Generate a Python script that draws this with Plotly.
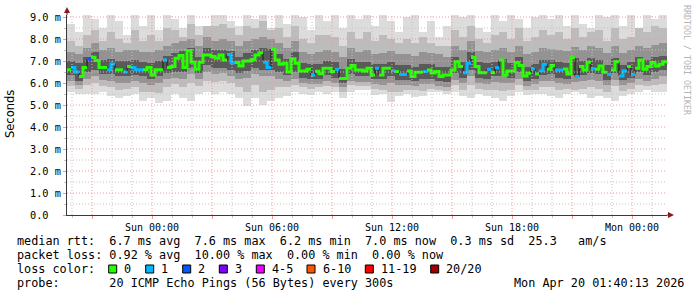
import plotly.graph_objects as go
import pandas as pd

# ---------------- data ----------------
START = "2026-04-18 19:45"          # left edge of the 30 h graph
END = "2026-04-20 01:45"
MED_STEP_MIN = 12                   # median sample spacing (minutes)
SMOKE_STEP_MIN = 24                 # smoke column spacing (minutes)

# median round-trip time (ms)
median_ms = [
    6.6, 6.7, 6.5, 6.3, 6.7, 7.08, 7.17, 7.02, 6.7, 6.7,
    6.6, 6.86, 6.6, 6.6, 6.5, 6.75, 6.7, 6.6, 6.6, 6.6,
    6.7, 6.36, 6.6, 6.6, 7.05, 6.7, 6.75, 7.12, 7.25, 6.7,
    7.47, 6.94, 6.62, 6.94, 7.27, 7.27, 7.2, 7.12, 7.27, 7.04,
    7.3, 6.92, 6.93, 6.77, 7.0, 7.0, 7.06, 7.27, 7.37, 6.94,
    6.7, 7.53, 7.04, 6.85, 6.9, 6.5, 7.1, 6.9, 6.55, 6.55,
    6.62, 6.36, 6.53, 6.42, 6.67, 6.67, 6.52, 6.62, 6.21, 6.21,
    6.67, 6.8, 6.59, 6.59, 6.55, 6.67, 6.36, 6.67, 6.36, 6.67,
    6.67, 6.56, 6.52, 6.39, 6.39, 6.55, 6.29, 6.49, 6.49, 6.52,
    6.59, 6.45, 6.52, 6.29, 6.36, 6.36, 6.59, 6.97, 6.75, 6.47,
    6.9, 7.17, 6.75, 6.47, 6.47, 6.62, 6.47, 6.7, 7.04, 6.36,
    6.55, 6.55, 6.93, 6.8, 6.32, 6.44, 6.64, 6.41, 6.56, 6.85,
    6.62, 6.8, 6.59, 6.59, 6.64, 6.41, 7.15, 6.29, 6.75, 6.59,
    6.94, 6.64, 6.62, 6.77, 6.49, 6.39, 6.59, 6.97, 6.32, 6.56,
    6.75, 6.39, 6.67, 7.04, 6.62, 6.75, 6.93, 6.77, 6.85, 6.97,
]
# lost pings (of 20) for each median sample
median_loss = [
    0, 1, 1, 0, 0, 2, 0, 0, 0, 0,
    1, 1, 0, 0, 1, 0, 1, 1, 1, 0,
    0, 0, 0, 0, 1, 0, 0, 0, 0, 0,
    0, 0, 0, 0, 0, 0, 0, 0, 0, 0,
    1, 1, 0, 0, 0, 0, 0, 0, 0, 1,
    1, 0, 0, 0, 0, 0, 0, 0, 0, 0,
    0, 1, 0, 0, 0, 0, 0, 1, 0, 0,
    0, 0, 0, 0, 0, 0, 0, 1, 0, 0,
    0, 1, 0, 1, 1, 0, 0, 0, 0, 1,
    0, 0, 0, 0, 0, 0, 0, 0, 0, 1,
    1, 0, 0, 0, 0, 1, 0, 1, 0, 0,
    0, 0, 0, 0, 0, 0, 1, 0, 1, 1,
    0, 0, 1, 1, 0, 0, 0, 1, 0, 0,
    0, 1, 0, 0, 0, 1, 0, 0, 1, 1,
    0, 1, 0, 0, 0, 0, 0, 0, 0, 0,
]

# smoke: distribution of the 20 pings per column (ms)
smoke_min = [
    5.6, 5.5, 5.5, 5.5, 5.6, 5.4, 5.3, 5.4, 5.5, 5.2, 5.3, 5.1, 5.2, 5.5, 5.3, 5.2, 5.5, 5.6, 5.5,
    5.6, 5.5, 5.3, 4.95, 5.3, 5.0, 5.2, 5.3, 5.4, 5.6, 5.5, 5.45, 5.6, 5.5, 5.6, 5.3, 5.6, 5.7, 5.7,
    5.45, 5.5, 5.15, 5.4, 5.5, 5.35, 5.4, 5.6, 5.6, 5.5, 5.6, 5.4, 5.3, 5.5, 5.4, 5.3, 5.2, 5.4, 5.6,
    5.45, 5.5, 5.5, 5.4, 5.3, 5.5, 5.6, 5.5, 5.3, 5.4, 5.3, 5.2, 5.4, 5.5, 5.6, 5.7, 5.6, 5.6,
]
smoke_max = [
    8.7, 8.3, 9.2, 8.9, 8.5, 9.3, 8.8, 8.2, 9.3, 8.6,
    9.1, 8.4, 9.3, 8.9, 8.5, 9.3, 8.6, 8.4, 9.2, 9.3,
    8.8, 8.6, 9.3, 8.9, 9.3, 8.5, 9.2, 8.7, 9.3, 9.0,
    8.4, 9.3, 8.8, 9.2, 8.5, 9.3, 8.9, 9.3, 8.6, 9.1,
    8.8, 8.3, 9.0, 9.3, 8.3, 8.8, 8.1, 8.6, 9.3, 9.0,
    9.3, 8.5, 8.3, 9.3, 8.8, 9.2, 8.9, 8.5, 9.0, 9.3,
    8.9, 9.3, 8.6, 9.3, 8.7, 8.5, 9.3, 9.0, 9.2, 8.6,
    9.3, 8.4, 9.3, 8.9, 9.2,
]
smoke_p10 = [
    5.85, 5.75, 5.9, 6.0, 5.85, 5.8, 5.7, 5.75, 5.8, 5.6,
    5.6, 5.55, 5.8, 5.95, 5.8, 6.0, 5.85, 6.1, 6.05, 6.1,
    6.0, 5.8, 5.6, 5.9, 5.6, 5.7, 5.8, 5.8, 5.9, 5.8,
    5.75, 5.8, 5.85, 5.8, 5.6, 5.9, 5.85, 5.85, 5.75, 5.7,
    5.6, 5.6, 5.7, 5.7, 5.65, 5.75, 5.7, 5.65, 5.9, 5.7,
    5.9, 5.75, 5.7, 5.7, 5.65, 5.7, 5.9, 5.7, 5.7, 5.8,
    5.8, 5.7, 5.75, 5.7, 5.75, 5.8, 5.75, 5.6, 5.85, 5.65,
    5.75, 5.9, 5.85, 5.9, 5.95,
]
smoke_p90 = [
    7.9, 7.7, 8.2, 8.4, 7.9, 8.3, 8.0, 7.8, 8.4, 7.9,
    8.2, 7.9, 8.5, 8.4, 8.1, 8.7, 8.2, 8.6, 8.6, 8.7,
    8.5, 8.2, 8.6, 8.5, 8.8, 8.4, 8.5, 8.1, 8.6, 8.0,
    7.8, 8.2, 8.2, 8.1, 7.7, 8.3, 8.0, 8.3, 7.9, 8.2,
    8.0, 7.8, 8.0, 7.8, 8.1, 7.8, 7.7, 7.7, 8.4, 8.1,
    8.6, 8.0, 7.8, 8.2, 8.3, 8.0, 8.5, 7.9, 8.1, 8.4,
    8.2, 8.3, 8.0, 8.5, 8.1, 8.3, 8.4, 7.9, 8.5, 8.0,
    8.1, 8.5, 8.3, 8.6, 8.5,
]
smoke_p25 = [
    6.1, 5.9, 6.2, 6.3, 6.15, 6.1, 6.0, 6.0, 6.1, 6.0,
    5.9, 6.0, 6.2, 6.25, 6.2, 6.4, 6.2, 6.5, 6.4, 6.45,
    6.3, 6.2, 6.25, 6.4, 6.3, 6.3, 6.2, 6.1, 6.2, 6.0,
    5.95, 5.95, 6.1, 6.0, 5.8, 6.1, 6.05, 6.05, 5.95, 5.9,
    6.0, 5.9, 5.9, 5.85, 5.95, 5.95, 5.85, 5.8, 6.15, 6.0,
    6.3, 6.0, 5.95, 6.05, 6.0, 6.0, 6.2, 5.85, 5.95, 6.1,
    6.1, 6.0, 5.95, 6.05, 6.1, 6.15, 6.1, 5.9, 6.15, 5.9,
    6.0, 6.2, 6.1, 6.2, 6.3,
]
smoke_p75 = [
    7.4, 7.3, 7.6, 7.8, 7.5, 7.6, 7.4, 7.5, 7.5, 7.4,
    7.4, 7.5, 7.7, 7.8, 7.9, 8.0, 7.7, 8.1, 7.9, 8.0,
    7.9, 7.7, 7.9, 8.0, 8.1, 8.0, 7.8, 7.6, 7.9, 7.4,
    7.3, 7.4, 7.5, 7.4, 7.2, 7.6, 7.4, 7.5, 7.3, 7.35,
    7.45, 7.3, 7.3, 7.25, 7.4, 7.35, 7.3, 7.2, 7.7, 7.5,
    7.9, 7.45, 7.4, 7.5, 7.6, 7.4, 7.7, 7.3, 7.4, 7.6,
    7.55, 7.5, 7.45, 7.65, 7.5, 7.7, 7.6, 7.35, 7.7, 7.35,
    7.5, 7.7, 7.6, 7.75, 7.8,
]
smoke_p40 = [
    6.35, 6.1, 6.5, 6.6, 6.4, 6.4, 6.3, 6.3, 6.35, 6.3,
    6.2, 6.3, 6.45, 6.5, 6.5, 6.7, 6.45, 6.8, 6.7, 6.7,
    6.6, 6.45, 6.55, 6.7, 6.6, 6.6, 6.5, 6.35, 6.5, 6.25,
    6.2, 6.2, 6.35, 6.25, 6.0, 6.4, 6.3, 6.3, 6.2, 6.2,
    6.3, 6.15, 6.15, 6.1, 6.2, 6.2, 6.1, 6.05, 6.45, 6.25,
    6.6, 6.25, 6.2, 6.3, 6.3, 6.25, 6.5, 6.1, 6.2, 6.35,
    6.4, 6.25, 6.2, 6.35, 6.35, 6.45, 6.4, 6.15, 6.45, 6.15,
    6.25, 6.5, 6.35, 6.5, 6.6,
]
smoke_p60 = [
    7.0, 6.9, 7.2, 7.4, 7.05, 7.1, 7.0, 7.0, 7.05, 6.95,
    6.9, 7.0, 7.25, 7.35, 7.45, 7.6, 7.2, 7.6, 7.5, 7.5,
    7.45, 7.2, 7.35, 7.5, 7.6, 7.55, 7.3, 7.1, 7.4, 6.9,
    6.85, 6.85, 7.0, 6.95, 6.65, 7.1, 6.95, 6.95, 6.85, 6.85,
    6.95, 6.8, 6.8, 6.75, 6.85, 6.85, 6.75, 6.75, 7.2, 6.95,
    7.4, 6.95, 6.9, 6.95, 7.1, 6.9, 7.2, 6.75, 6.85, 7.05,
    7.05, 6.95, 6.9, 7.15, 7.0, 7.15, 7.05, 6.8, 7.15, 6.8,
    6.95, 7.2, 7.05, 7.2, 7.25,
]

y_tick_vals = [0, 1, 2, 3, 4, 5, 6, 7, 8, 9]
y_tick_text = ["0.0\u00a0\u00a0", "1.0 m", "2.0 m", "3.0 m", "4.0 m",
               "5.0 m", "6.0 m", "7.0 m", "8.0 m", "9.0 m"]

loss_labels = ["0", "1", "2", "3", "4-5", "6-10", "11-19", "20/20"]
loss_colors = ["#26ff00", "#00b8ff", "#0059ff", "#7e00ff", "#ee00ff",
               "#ff5500", "#ff0000", "#a10000"]

stats_rtt = "median rtt:  6.7 ms avg  7.6 ms max  6.2 ms min  7.0 ms now  0.3 ms sd  25.3   am/s"
stats_loss = "packet loss: 0.92 % avg  10.00 % max  0.00 % min  0.00 % now"
probe_text = "probe:       20 ICMP Echo Pings (56 Bytes) every 300s"
stamp_text = "Mon Apr 20 01:40:13 2026"

# ---------------- geometry ----------------
W, H = 697, 297
PL, PR, PT, PB = 67, 667, 15, 215
YMAX = (PB - PT) / 22.0
MONO = "DejaVu Sans Mono"


def px(x):
    return (x - PL) / (PR - PL)


def py(y):
    return (PB - y) / (PB - PT)


start = pd.Timestamp(START)
end = pd.Timestamp(END)
med_step = pd.Timedelta(minutes=MED_STEP_MIN)
smk_step = pd.Timedelta(minutes=SMOKE_STEP_MIN)
med_edges = [start + i * med_step for i in range(len(median_ms) + 1)]
smk_centers = [start + (i + 0.5) * smk_step for i in range(len(smoke_min))]
smk_width = smk_step.total_seconds() * 1000

fig = go.Figure()

bands = [
    (smoke_min, smoke_max, "#dcdcdc"),
    (smoke_p10, smoke_p90, "#bcbcbc"),
    (smoke_p25, smoke_p75, "#939393"),
    (smoke_p40, smoke_p60, "#5a5a5a"),
]
for lo, hi, col in bands:
    fig.add_trace(go.Bar(
        x=smk_centers, y=[h - l for l, h in zip(lo, hi)], base=lo,
        width=smk_width, marker=dict(color=col, line=dict(width=0)),
        showlegend=False, hoverinfo="skip"))

# thin step connector of the median
fig.add_trace(go.Scatter(
    x=med_edges, y=median_ms + [median_ms[-1]], mode="lines",
    line=dict(color="#1a1a1a", width=1, shape="hv"),
    showlegend=False, hoverinfo="skip"))


def bucket(l):
    if l <= 3:
        return l
    if l <= 5:
        return 4
    if l <= 10:
        return 5
    if l <= 19:
        return 6
    return 7


# coloured median line, one stepped path per run of equal loss class
for b, col in enumerate(loss_colors):
    xs, ys = [], []
    i = 0
    n = len(median_ms)
    while i < n:
        if bucket(median_loss[i]) != b:
            i += 1
            continue
        j = i
        while j < n and bucket(median_loss[j]) == b:
            xs.append(med_edges[j])
            ys.append(median_ms[j])
            j += 1
        xs += [med_edges[j], None]
        ys += [median_ms[j - 1], None]
        i = j
    if xs:
        fig.add_trace(go.Scatter(
            x=xs, y=ys, mode="lines", line=dict(color=col, width=3, shape="hv"),
            connectgaps=False, showlegend=False, hoverinfo="skip"))

shapes = []
# grid (drawn above the smoke like rrdtool)
MAJ = "#ec9a9a"
MIN = "#c4c4c4"
hours = pd.date_range(start.ceil("h"), end, freq="h")
for h in hours:
    shapes.append(dict(type="line", xref="x", yref="paper", x0=h, x1=h, y0=0, y1=1,
                       line=dict(color=MAJ if h.hour % 3 == 0 else MIN, width=1, dash="1px,2px"),
                       layer="above"))
for k in range(1, 19):
    v = k * 0.5
    shapes.append(dict(type="line", xref="paper", yref="y", x0=0, x1=1, y0=v, y1=v,
                       line=dict(color=MAJ if k % 2 == 0 else MIN, width=1, dash="1px,2px"),
                       layer="above"))

AX = "#3a3a3a"
# axis extensions
shapes.append(dict(type="line", xref="paper", yref="paper", x0=px(PR), x1=px(670), y0=0, y1=0,
                   line=dict(color=AX, width=1)))
shapes.append(dict(type="line", xref="paper", yref="paper", x0=0, x1=0, y0=1, y1=py(12),
                   line=dict(color=AX, width=1)))
# arrows
ARW = "#8b1a1a"
shapes.append(dict(type="path", xref="paper", yref="paper",
                   path=f"M {px(668)} {py(212)} L {px(674)} {py(215)} L {px(668)} {py(218)} Z",
                   fillcolor=ARW, line=dict(color=ARW, width=0)))
shapes.append(dict(type="path", xref="paper", yref="paper",
                   path=f"M {px(64)} {py(13)} L {px(67)} {py(7)} L {px(70)} {py(13)} Z",
                   fillcolor=ARW, line=dict(color=ARW, width=0)))

annotations = []


def text(x, y, s, size=11.8, color="#000", family=MONO, xanchor="left", angle=0):
    annotations.append(dict(
        xref="paper", yref="paper", x=px(x), y=py(y), text=s.replace(" ", "\u00a0"),
        showarrow=False, xanchor=xanchor, yanchor="middle", textangle=angle,
        font=dict(family=family, size=size, color=color), borderpad=0))


text(16, 241, stats_rtt)
text(16, 255, stats_loss)
text(16, 269, "loss color:")
text(16, 283, probe_text)
text(513, 283, stamp_text)

box_x = [108.7, 145.7, 182.7, 219.3, 256.3, 307.0, 365.3, 430.7]
for bx, lab, col in zip(box_x, loss_labels, loss_colors):
    shapes.append(dict(type="rect", xref="paper", yref="paper",
                       x0=px(bx), x1=px(bx + 8), y0=py(273), y1=py(265),
                       fillcolor=col, line=dict(color="#000", width=1)))
    text(bx + 14.5, 269, lab)

text(10, 114, "Seconds", size=11.5, family="DejaVu Sans", xanchor="center", angle=-90)
text(687, 60, "RRDTOOL / TOBI OETIKER", size=8.3, color="#b4b4b4", xanchor="center", angle=90)

major_x = [h for h in hours if h.hour % 3 == 0]
major_txt = [h.strftime("%a %H:%M") if h.hour % 6 == 0 else "" for h in major_x]
minor_x = [h for h in hours if h.hour % 3 != 0]

fig.update_layout(
    width=W, height=H,
    margin=dict(l=PL, r=W - PR, t=PT, b=H - PB),
    paper_bgcolor="#ffffff", plot_bgcolor="#ffffff",
    barmode="overlay", bargap=0,
    showlegend=False,
    shapes=shapes, annotations=annotations,
    xaxis=dict(type="date", range=[start, end], showgrid=False, zeroline=False,
               showline=True, linecolor=AX, linewidth=1,
               tickmode="array", tickvals=major_x, ticktext=major_txt,
               ticks="outside", ticklen=3, tickcolor=MAJ, tickwidth=1,
               tickfont=dict(family=MONO, size=10, color="#000"),
               minor=dict(tickvals=minor_x, ticks="outside", ticklen=2, tickcolor=MIN, showgrid=False),
               fixedrange=True),
    yaxis=dict(range=[0, YMAX], showgrid=False, zeroline=False,
               showline=True, linecolor=AX, linewidth=1,
               tickmode="array", tickvals=y_tick_vals, ticktext=y_tick_text,
               ticks="outside", ticklen=3, tickcolor=MAJ, tickwidth=1,
               tickfont=dict(family=MONO, size=10.3, color="#000"),
               minor=dict(tickvals=[v + 0.5 for v in y_tick_vals], ticks="outside", ticklen=2,
                          tickcolor=MIN, showgrid=False),
               fixedrange=True),
)

fig.write_html("out.html", config={"displayModeBar": False})
